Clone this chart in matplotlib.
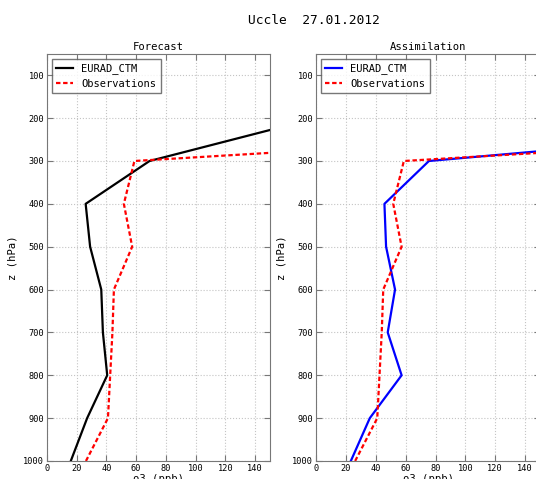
import matplotlib
matplotlib.use("Agg")
import matplotlib.pyplot as plt

# pressure levels (hPa)
p_model = [1000, 900, 800, 700, 600, 500, 400, 300, 200]
p_obs = [1000, 900, 800, 700, 600, 500, 400, 300, 281, 250]

# ozone (ppb)
o3_forecast = [16, 27, 40.5, 37.6, 36.5, 29, 26, 69, 181]
o3_assim = [23.3, 36, 57.3, 48, 52.9, 46.9, 45.8, 75.6, 400]
o3_obs = [26.2, 41, 42.5, 44, 45, 57.3, 51.7, 58.8, 150, 300]

yticks = [100, 200, 300, 400, 500, 600, 700, 800, 900, 1000]
xticks = [0, 20, 40, 60, 80, 100, 120, 140]

plt.rcParams['font.family'] = ['DejaVu Sans Mono']

fig = plt.figure(figsize=(5.36, 4.79), dpi=100)
fig.patch.set_facecolor("white")
fig.text(0.586, 0.958, "Uccle  27.01.2012", ha="center", va="center", fontsize=9.3)

panels = [
    ("Forecast", o3_forecast, "black", [0.0877, 0.0376, 0.416, 0.85]),
    ("Assimilation", o3_assim, "blue", [0.5896, 0.0376, 0.418, 0.85]),
]

for title, model, col, pos in panels:
    ax = fig.add_axes(pos)
    ax.plot(model, p_model, color=col, lw=1.6, label="EURAD_CTM")
    ax.plot(o3_obs, p_obs, color="red", lw=1.6, linestyle=(0, (2, 1.2)), label="Observations")
    ax.set_xlim(0, 150)
    ax.set_ylim(1000, 50)
    ax.set_xticks(xticks)
    ax.set_yticks(yticks)
    ax.tick_params(direction="in", top=True, right=True, labelsize=6.2, color="#777777", length=4, pad=2)
    for s in ax.spines.values():
        s.set_color("#777777")
    ax.grid(True, color="#c4c4c4", linestyle=":", lw=0.8)
    ax.set_title(title, fontsize=7.6, pad=3)
    ax.set_xlabel("o3 (ppb)", fontsize=7.6, labelpad=1)
    ax.set_ylabel("z (hPa)", fontsize=7.6)
    leg = ax.legend(loc="upper left", fontsize=7.5, fancybox=False, handlelength=1.6,
                    borderpad=0.45, labelspacing=0.45, borderaxespad=0.45)
    leg.get_frame().set_edgecolor("#555555")

fig.savefig("out.png", dpi=100, facecolor="white")
